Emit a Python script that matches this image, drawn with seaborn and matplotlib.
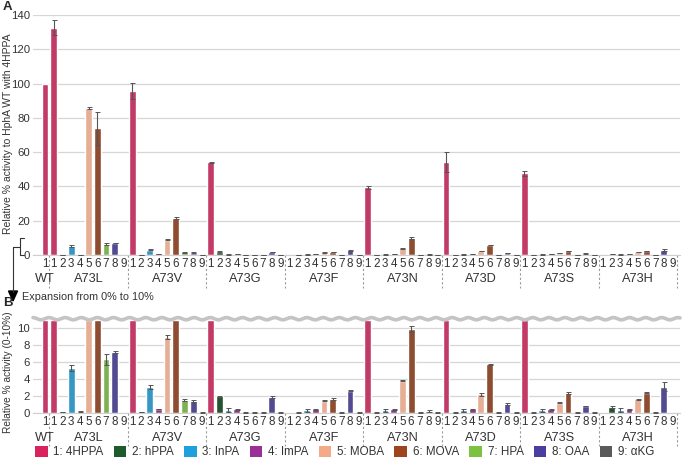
import matplotlib
matplotlib.use("Agg")
import matplotlib.pyplot as plt
from matplotlib.patches import Patch
from matplotlib.lines import Line2D
import seaborn as sns
import pandas as pd
import numpy as np

sns.set_style("white")
plt.rcParams['font.family'] = ['Liberation Sans', 'DejaVu Sans']

# substrates (legend order)
substrates = ['1: 4HPPA', '2: hPPA', '3: InPA', '4: ImPA', '5: MOBA',
              '6: MOVA', '7: HPA', '8: OAA', '9: \u03b1KG']
colors = ['#d9235e', '#1d5a2c', '#1ea0dc', '#9a2f98', '#f4a987',
          '#9e4520', '#7cc142', '#4a3f9e', '#5a5a5a']
groups = ['WT', 'A73L', 'A73V', 'A73G', 'A73F', 'A73N', 'A73D', 'A73S', 'A73H']

# relative activity (%) per variant, substrates 1..9 (WT only measured with 4HPPA)
wt = [100.0]
a73l = [132.7, 0.15, 5.3, 0.2, 85.6, 73.9, 6.3, 7.15, 0.0]
a73v = [95.8, 0.15, 3.05, 0.5, 8.9, 21.6, 1.55, 1.42, 0.1]
a73g = [54.2, 2.0, 0.4, 0.45, 0.1, 0.1, 0.1, 1.87, 0.1]
a73f = [0.1, 0.1, 0.35, 0.45, 1.48, 1.65, 0.1, 2.65, 0.1]
a73n = [39.4, 0.1, 0.35, 0.45, 3.8, 9.85, 0.1, 0.25, 0.1]
a73d = [54.2, 0.1, 0.35, 0.45, 2.2, 5.72, 0.1, 1.05, 0.1]
a73s = [47.6, 0.1, 0.35, 0.45, 1.25, 2.33, 0.1, 0.85, 0.1]
a73h = [0.1, 0.74, 0.4, 0.45, 1.62, 2.42, 0.1, 3.1, 0.05]

# standard deviations
wt_err = [0.0]
a73l_err = [4.3, 0.05, 0.35, 0.05, 0.5, 9.5, 0.6, 0.1, 0.0]
a73v_err = [4.6, 0.03, 0.2, 0.05, 0.2, 0.7, 0.15, 0.1, 0.02]
a73g_err = [0.3, 0.05, 0.25, 0.05, 0.03, 0.03, 0.03, 0.1, 0.02]
a73f_err = [0.0, 0.03, 0.2, 0.05, 0.1, 0.1, 0.03, 0.1, 0.02]
a73n_err = [1.0, 0.03, 0.2, 0.05, 0.05, 0.4, 0.03, 0.1, 0.02]
a73d_err = [5.8, 0.03, 0.2, 0.05, 0.15, 0.05, 0.03, 0.1, 0.02]
a73s_err = [1.5, 0.03, 0.2, 0.05, 0.1, 0.1, 0.03, 0.05, 0.02]
a73h_err = [0.0, 0.1, 0.2, 0.05, 0.1, 0.05, 0.03, 0.5, 0.0]

vals = [wt, a73l, a73v, a73g, a73f, a73n, a73d, a73s, a73h]
errs = [wt_err, a73l_err, a73v_err, a73g_err, a73f_err, a73n_err,
        a73d_err, a73s_err, a73h_err]

rows = []
pos = 0
for g, v, e in zip(groups, vals, errs):
    for i in range(len(v)):
        rows.append({'group': g, 'pos': pos, 'num': str(i + 1),
                     'substrate': substrates[i], 'value': v[i], 'err': e[i]})
        pos += 1
df = pd.DataFrame(rows)

W, H = 687, 462
fig = plt.figure(figsize=(6.87, 4.62), dpi=100)


def px(x, y):
    return x / W, 1 - y / H


ax1 = fig.add_axes([33 / W, 1 - 255 / H, 647 / W, 240 / H])
ax2 = fig.add_axes([33 / W, 1 - 413.3 / H, 647 / W, 97.6 / H])

pal = dict(zip(substrates, colors))
clip = 10.95
tick_c = '#333333'


def draw(ax, ymax, yticks, cap=None):
    d = df.copy()
    if cap is not None:
        d['value'] = d['value'].clip(upper=cap)
    sns.barplot(data=d, x='pos', y='value', hue='substrate', palette=pal,
                native_scale=True, dodge=False, width=0.78, errorbar=None,
                legend=False, ax=ax, hue_order=substrates, zorder=2)
    show = df['err'] > 0
    if cap is not None:
        show &= df['value'] < cap
    ax.errorbar(df.loc[show, 'pos'], df.loc[show, 'value'], yerr=df.loc[show, 'err'],
                fmt='none', ecolor='#555555', elinewidth=0.8, capsize=1.8,
                capthick=0.7, zorder=3)
    ax.set_xlim(-1.38, df['pos'].max() + 0.85)
    ax.set_ylim(0, ymax)
    ax.set_yticks(yticks)
    ax.yaxis.grid(True, color='#d6d6d6', linewidth=0.9, zorder=0)
    ax.set_axisbelow(True)
    for s in ['top', 'right', 'left']:
        ax.spines[s].set_visible(False)
    ax.spines['bottom'].set_color('#cfcfcf')
    ax.set_xticks(df['pos'])
    ax.set_xticklabels(df['num'])
    ax.tick_params(axis='x', length=0, pad=2, labelsize=8.4, colors=tick_c)
    ax.tick_params(axis='y', length=0, pad=2, labelsize=8.2, colors=tick_c)
    ax.set_xlabel('')
    ax.set_ylabel('')
    # group labels and dashed separators
    tr = ax.get_xaxis_transform()
    drop = -33 / ax.bbox.height
    for g in groups:
        p = df.loc[df['group'] == g, 'pos']
        ax.annotate(g, xy=(p.mean(), 0), xycoords=tr, xytext=(0, -17.5),
                    textcoords='offset points', ha='center', va='center',
                    fontsize=9.2, color=tick_c, annotation_clip=False)
        edge = p.max() + 0.5
        ax.plot([edge, edge], [0, drop], transform=tr, color='#9a9a9a',
                linestyle=(0, (2, 2)), linewidth=0.8, clip_on=False)


draw(ax1, 140, range(0, 141, 20))
draw(ax2, 11.4, range(0, 11, 2), cap=clip)

# wavy break line in panel B
xs = np.linspace(*ax2.get_xlim(), 600)
ax2.plot(xs, 11.05 + 0.13 * np.sin(xs / 1.85 * 2 * np.pi), color='#c4c4c4',
         linewidth=2.6, clip_on=False, zorder=5)

fig.text(*px(3, 7), 'A', fontsize=9.5, fontweight='bold', va='center')
fig.text(*px(3, 303), 'B', fontsize=9.5, fontweight='bold', va='center')
fig.text(*px(8, 134), 'Relative % activity to HphA WT with 4HPPA', rotation=90,
         ha='center', va='center', fontsize=7.5, color=tick_c)
fig.text(*px(8, 372), 'Relative % activity (0-10%)', rotation=90,
         ha='center', va='center', fontsize=7.3, color=tick_c)

# bracket and expansion arrow
line_kw = dict(transform=fig.transFigure, color='#333333', linewidth=0.8)
xb0, yb0 = px(24, 238)
xb1, yb1 = px(20, 255)
fig.add_artist(Line2D([xb0, xb1, xb1, xb0], [yb0, yb0, yb1, yb1], **line_kw))
fig.add_artist(Line2D([px(20, 0)[0], px(13, 0)[0]], [px(0, 247)[1]] * 2, **line_kw))
fig.add_artist(Line2D([px(13, 0)[0]] * 2, [px(0, 247)[1], px(0, 292)[1]], **line_kw))
fig.patches.append(plt.Polygon([px(8.5, 291), px(17.5, 291), px(13, 301)],
                               closed=True, color='black',
                               transform=fig.transFigure, figure=fig))
fig.text(*px(22, 297), 'Expansion from 0% to 10%', fontsize=7.8, color=tick_c,
         va='center', ha='left')

handles = [Patch(facecolor=c, edgecolor='none', label=s)
           for s, c in zip(substrates, colors)]
fig.legend(handles=handles, loc='center left', bbox_to_anchor=(px(30, 0)[0], px(0, 452)[1]),
           ncol=9, frameon=False, fontsize=8.4, handlelength=1.1,
           handleheight=1.1, handletextpad=0.5, columnspacing=0.85,
           labelcolor=tick_c, borderaxespad=0)

fig.savefig('out.png', dpi=100)
